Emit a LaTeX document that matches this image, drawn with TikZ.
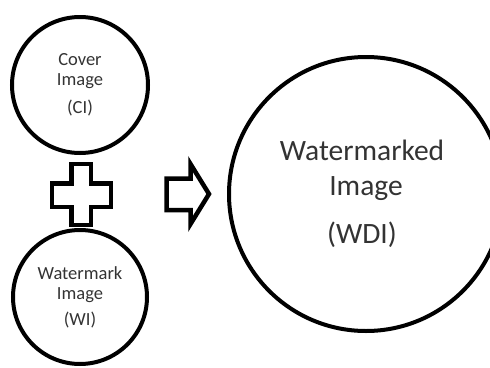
\documentclass[tikz,border=0pt]{standalone}
\usepackage{fontspec}
\setmainfont{Carlito}
\begin{document}
\begin{tikzpicture}[x=1pt,y=-1pt,
  bubble/.style={draw, circle, line width=4pt, inner sep=0pt, align=center, text=black!80},
  smalltext/.style={font=\fontsize{18.5}{20}\selectfont},
  blockline/.style={draw, line width=4.5pt, line join=miter}]
\useasboundingbox (0,0) rectangle (490,367);
\node[bubble, smalltext, minimum size=136pt] (cover) at (80,85) {Cover\\Image\\[8pt](CI)};
\node[bubble, smalltext, minimum size=134pt] (mark) at (80,297) {Watermark\\Image\\[6pt](WI)};
\node[bubble, minimum size=274pt, font=\fontsize{29.5}{35}\selectfont] (result) at (366,194) {Watermarked\hspace*{8pt}\\Image\hspace*{8pt}\\[13pt](WDI)\hspace*{8pt}};
\draw[blockline] (71.5,164) -- (91,164) -- (91,183.5) -- (111,183.5) -- (111,207) -- (91,207) -- (91,225) -- (71.5,225) -- (71.5,207) -- (52,207) -- (52,183.5) -- (71.5,183.5) -- cycle;
\draw[blockline] (166.5,178.5) -- (190.5,178.5) -- (190.5,164) -- (209,194) -- (190.5,224) -- (190.5,210) -- (166.5,210) -- cycle;
\end{tikzpicture}
\end{document}
